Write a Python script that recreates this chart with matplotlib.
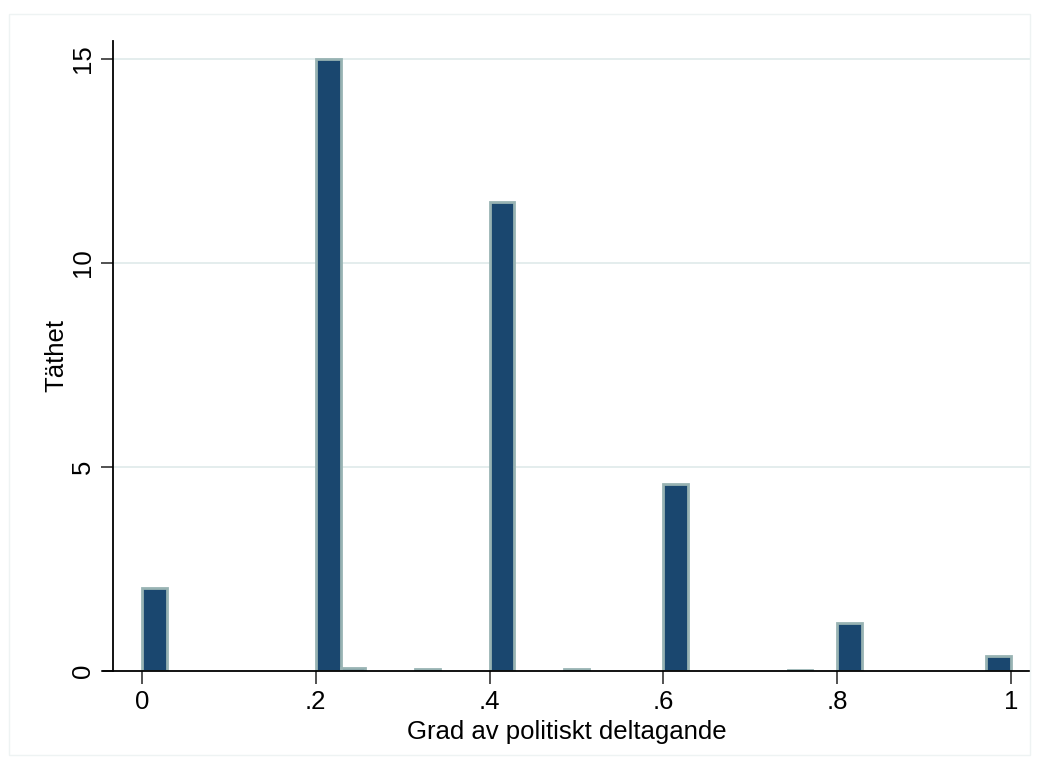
import numpy as np
import matplotlib
matplotlib.use("Agg")
import matplotlib.pyplot as plt
from matplotlib.patches import Rectangle

plt.rcParams["font.family"] = ["Liberation Sans", "DejaVu Sans"]

# histogram of participation index, 35 bins on [0, 1]
n_bins = 35
bin_index = [0, 7, 8, 11, 14, 17, 21, 26, 28, 34]
density = [2.03, 15.0, 0.08, 0.04, 11.5, 0.04, 4.58, 0.03, 1.18, 0.37]
xticks = [0, 0.2, 0.4, 0.6, 0.8, 1.0]
xticklabels = ["0", ".2", ".4", ".6", ".8", "1"]
yticks = [0, 5, 10, 15]

width = 1.0 / n_bins
lefts = [i * width for i in bin_index]
fs = 18.5

fig = plt.figure(figsize=(10.41, 7.67), dpi=100)
fig.patches.append(Rectangle((9 / 1041, 1 - 755 / 767), 1021 / 1041, 741 / 767,
                             transform=fig.transFigure, fill=False,
                             edgecolor="#eef3f3", linewidth=1.0))

ax = fig.add_axes([103 / 1041, 1 - 671 / 767, 927 / 1041, 630 / 767])
for s in ["top", "right"]:
    ax.spines[s].set_visible(False)
ax.spines["left"].set_position(("axes", 0.0108))
ax.spines["left"].set_linewidth(1.3)
ax.spines["bottom"].set_linewidth(1.3)
ax.spines["bottom"].set_zorder(4)

ax.set_xlim(-0.0449, 1.0219)
ax.set_ylim(0, 15.44)

ax.bar(lefts, density, width=width, align="edge", color="#1a476f",
       edgecolor="#98b3b3", linewidth=2.0, zorder=3)

ax.set_yticks(yticks)
ax.set_yticklabels([str(t) for t in yticks], rotation=90, va="center", fontsize=fs)
ax.set_xticks(xticks)
ax.set_xticklabels(xticklabels, fontsize=fs)
ax.tick_params(axis="both", direction="out", length=9, width=1.2, color="#333333")
ax.tick_params(axis="y", pad=4)
ax.tick_params(axis="x", pad=5)

for t in yticks[1:]:
    ax.axhline(t, xmin=0.0108, xmax=1, color="#e2ecec", linewidth=1.3, zorder=1)

ax.set_xlabel("Grad av politiskt deltagande", fontsize=fs, labelpad=4)
ax.set_ylabel("Täthet", fontsize=fs, labelpad=2)

fig.savefig("out.png", dpi=100)
